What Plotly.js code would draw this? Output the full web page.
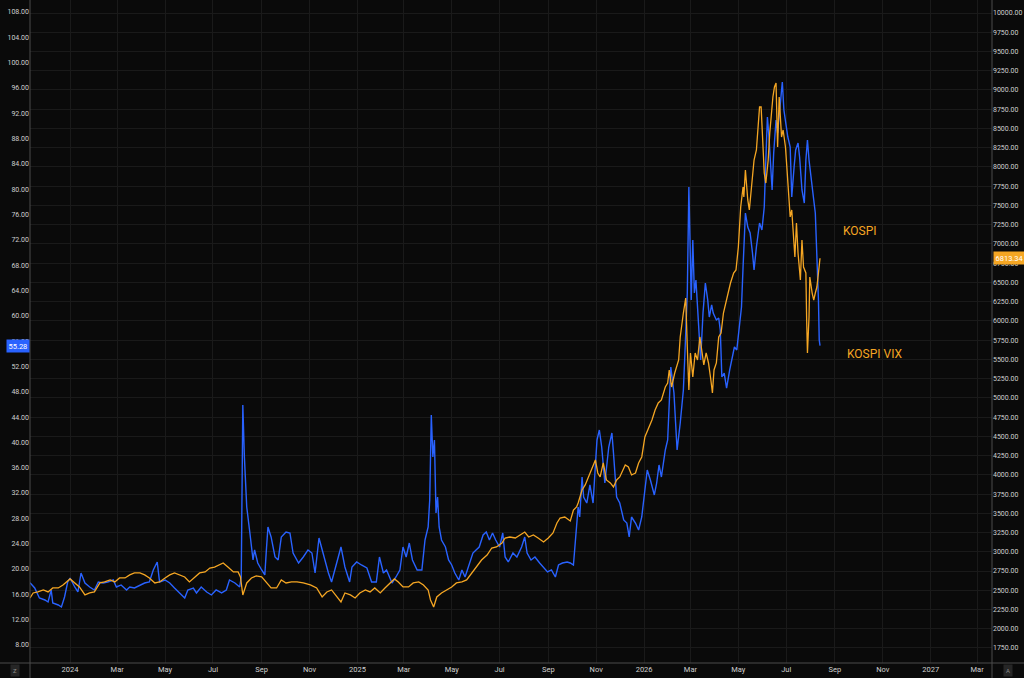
<!DOCTYPE html>
<html>
<head>
<meta charset="utf-8">
<script src="https://cdn.plot.ly/plotly-3.0.1.min.js"></script>
<style>
html,body{margin:0;padding:0;background:#0a0a0a;}
#chart{width:1024px;height:678px;}
</style>
</head>
<body>
<div id="chart"></div>
<script>
// Dates are stored as day offsets from this base date
const baseDate = '2024-01-01';

// KOSPI VIX (left axis)
const vixDays = [-51,-45,-39,-32,-28,-24,-22,-15,-11,-7,-3,0,6,10,14,19,25,31,36,42,48,55,59,65,72,76,82,89,95,101,106,111,114,121,127,133,140,146,150,157,161,167,174,180,186,193,199,203,210,216,218,220,222,225,229,233,235,239,244,248,250,252,256,261,265,269,275,280,284,291,297,303,308,312,317,323,329,333,340,345,350,356,359,365,371,378,384,390,394,399,403,410,415,420,424,428,432,436,442,448,452,456,458,460,462,464,466,468,470,473,478,482,486,490,495,499,503,507,513,517,521,526,530,534,538,542,547,551,554,558,564,569,575,579,582,587,592,598,603,608,613,618,622,627,633,637,641,644,647,649,652,654,658,662,666,671,674,677,681,686,690,692,696,700,705,709,712,715,720,724,728,732,735,739,744,747,750,753,758,761,763,765,769,773,777,781,783,786,788,791,793,795,797,800,803,806,809,812,814,817,819,823,826,828,830,833,836,840,843,846,849,852,855,857,860,863,866,869,871,874,878,881,884,886,888,890,892,894,896,899,901,904,907,909,912,914,917,919,922,924,927,929,932,935,937,939,941,944,947,949,951,953,954,955];
const vixValues = [17.83,16.99,15.41,15.10,14.78,16.68,14.62,14.31,13.99,15.57,17.94,18.57,17.15,16.36,19.36,17.78,17.15,16.68,17.94,17.78,17.94,18.26,17.15,17.47,16.68,17.15,16.99,17.47,17.78,17.94,19.84,21.10,17.94,18.26,17.78,16.99,16.21,15.41,16.68,16.99,16.21,17.15,16.36,15.89,16.68,16.21,16.68,18.26,17.78,17.15,18.73,45.91,37.69,29.79,25.68,21.42,23.00,20.94,19.84,19.05,23.00,26.63,25.05,21.89,21.42,25.05,25.84,25.68,22.52,20.94,21.89,23.00,22.52,19.36,24.89,21.89,19.36,17.94,20.94,23.47,20.31,17.94,20.31,21.10,20.63,20.15,17.94,17.94,21.89,19.36,19.84,17.78,18.73,19.84,23.47,21.89,24.10,21.42,19.84,19.84,24.58,26.63,30.90,44.33,37.69,40.38,28.84,31.37,26.63,24.58,23.47,21.42,20.63,19.36,18.26,19.84,18.73,20.31,22.52,23.00,23.47,25.37,25.84,24.58,25.68,24.58,23.47,25.68,21.89,21.10,22.52,21.89,23.47,25.05,22.52,21.42,21.89,20.94,20.31,19.52,19.84,18.73,20.63,20.94,21.10,20.94,20.63,25.68,29.79,28.21,34.53,31.37,30.42,33.27,30.42,40.38,41.96,39.27,33.58,39.27,41.48,38.32,31.37,30.42,27.74,27.26,25.05,28.21,27.26,26.16,28.21,32.48,35.64,34.06,31.69,33.58,36.43,34.53,38.80,40.38,46.22,51.91,47.80,38.80,43.06,48.28,54.12,63.60,80.35,62.50,71.98,63.60,65.66,58.23,53.02,60.44,65.18,62.50,59.81,61.71,60.44,59.34,59.65,57.76,50.33,50.96,48.59,51.44,53.02,55.07,54.60,58.23,61.39,67.71,76.24,74.03,73.08,69.92,67.24,70.87,74.66,73.56,77.19,84.62,91.41,88.25,84.62,79.88,85.72,90.94,88.88,92.99,96.94,92.52,89.36,88.25,86.67,78.77,83.51,86.20,87.30,85.09,79.88,77.82,84.62,87.78,84.62,80.98,78.30,76.24,69.92,62.50,56.18,55.28];

// KOSPI (right axis)
const kospiDays = [-51,-47,-41,-34,-28,-22,-15,-9,0,6,12,19,25,31,38,44,51,57,63,70,76,82,89,95,101,108,114,121,127,133,140,146,152,159,165,172,178,184,191,195,201,208,214,217,220,225,231,237,244,250,256,263,269,275,282,289,297,306,314,321,327,333,340,345,350,357,363,369,376,382,388,395,401,407,413,418,424,431,437,444,450,456,459,463,467,473,480,486,492,499,505,512,518,524,531,537,543,550,554,560,567,573,579,584,590,596,603,609,615,620,624,630,637,641,645,647,652,656,660,664,669,672,675,679,683,688,692,696,700,707,711,715,720,724,728,732,736,741,745,749,753,758,761,763,766,770,775,777,781,784,786,788,790,793,796,799,802,804,807,810,813,816,818,820,823,826,829,832,835,838,841,845,848,851,854,857,858,860,863,865,868,871,874,876,878,880,882,884,886,889,891,893,895,897,899,901,903,904,906,908,911,913,915,917,919,921,923,925,927,930,932,934,937,938,939,941,942,945,947,949,951,953,955];
const kospiValues = [2400,2465,2478,2504,2478,2530,2530,2569,2647,2595,2543,2439,2465,2478,2595,2608,2634,2608,2660,2660,2699,2725,2725,2699,2660,2595,2608,2660,2699,2725,2699,2673,2608,2673,2725,2738,2789,2802,2841,2854,2802,2738,2738,2673,2439,2595,2660,2686,2673,2608,2530,2530,2634,2595,2608,2608,2595,2569,2530,2413,2478,2504,2413,2348,2465,2439,2400,2465,2504,2478,2530,2465,2530,2595,2647,2608,2543,2543,2595,2608,2569,2504,2374,2283,2413,2465,2504,2543,2595,2608,2634,2725,2802,2893,2958,3049,3062,3114,3179,3192,3179,3218,3257,3192,3218,3179,3127,3179,3244,3374,3439,3452,3400,3543,3582,3634,3803,3868,3972,4063,4193,4024,3972,4154,3933,3894,3842,3933,3972,4128,4102,3998,4024,4154,4232,4491,4582,4712,4842,4933,4972,5141,5193,5362,5141,5323,5492,5791,6102,6297,5661,5102,5583,5271,5583,5492,5791,5622,5427,5583,5453,5232,5063,5362,5453,5791,5843,6102,6232,6401,6492,6622,6661,6960,7480,7739,7610,7960,7571,7441,7739,8090,8220,8519,8779,8779,8311,7921,7791,8090,8441,8701,8909,9039,9091,8259,8909,8740,8389,8480,8259,7960,7661,7350,7441,7090,6830,7272,6882,6531,7051,6700,6622,6012,5583,6050,6570,6362,6271,6362,6440,6622,6813.34];

// X tick labels
const xTickDates = ['2024-01-01','2024-03-01','2024-05-01','2024-07-01','2024-09-01','2024-11-01','2025-01-01','2025-03-01','2025-05-01','2025-07-01','2025-09-01','2025-11-01','2026-01-01','2026-03-01','2026-05-01','2026-07-01','2026-09-01','2026-11-01','2027-01-01','2027-03-01'];
const xTickText = ['2024','Mar','May','Jul','Sep','Nov','2025','Mar','May','Jul','Sep','Nov','2026','Mar','May','Jul','Sep','Nov','2027','Mar'];

const seriesNames = ['KOSPI VIX','KOSPI'];
const lastVix = vixValues[vixValues.length-1];
const lastKospi = kospiValues[kospiValues.length-1];

function toDate(d){
  const t = Date.parse(baseDate + 'T00:00:00Z') + d*86400000;
  return new Date(t).toISOString().slice(0,10);
}

const BLUE = '#2962FF';
const ORANGE = '#F5A623';
const GRID = '#1a1a1a';
const TXT = '#cfcfcf';
const FONT = 'Roboto, "Liberation Sans", Arial, sans-serif';

const traces = [
  {x: vixDays.map(toDate), y: vixValues, type:'scatter', mode:'lines', name: seriesNames[0],
   line:{color:BLUE, width:1.4}, yaxis:'y', hoverinfo:'skip'},
  {x: kospiDays.map(toDate), y: kospiValues, type:'scatter', mode:'lines', name: seriesNames[1],
   line:{color:ORANGE, width:1.3}, yaxis:'y2', hoverinfo:'skip'}
];

const layout = {
  width:1024, height:678,
  margin:{l:30, r:32, t:0, b:15, pad:0},
  paper_bgcolor:'#0a0a0a', plot_bgcolor:'#0a0a0a',
  showlegend:false,
  font:{family:FONT, color:TXT, size:7},
  xaxis:{
    type:'date', range:['2023-11-11','2027-03-20'],
    tickmode:'array', tickvals:xTickDates, ticktext:xTickText,
    showgrid:true, gridcolor:GRID, gridwidth:1,
    zeroline:false, showline:false, ticks:'', ticklen:0,
    tickfont:{family:FONT, color:TXT, size:7.5}, automargin:false, fixedrange:true
  },
  yaxis:{
    range:[5.14, 109.9], tick0:8, dtick:4, tickformat:'.2f',
    showgrid:false, zeroline:false, showline:false, ticks:'', ticklen:0,
    side:'left', tickfont:{family:FONT, color:TXT, size:7}, automargin:false, fixedrange:true
  },
  yaxis2:{
    range:[1555, 10169], tick0:1750, dtick:250, tickformat:'.2f',
    overlaying:'y', side:'right',
    showgrid:true, gridcolor:GRID, gridwidth:1,
    zeroline:false, showline:false, ticks:'', ticklen:0,
    tickfont:{family:FONT, color:TXT, size:7}, automargin:false, fixedrange:true
  },
  shapes:[
    {type:'line', xref:'paper', yref:'paper', x0:0, x1:0, y0:-0.0226, y1:1, line:{color:'#4a4a4a', width:1}},
    {type:'line', xref:'paper', yref:'paper', x0:1, x1:1, y0:-0.0226, y1:1, line:{color:'#4a4a4a', width:1}},
    {type:'line', xref:'paper', yref:'paper', x0:-0.0312, x1:1.0333, y0:0, y1:0, line:{color:'#4a4a4a', width:1}}
  ],
  annotations:[
    {xref:'paper', yref:'paper', x:0.8628, y:0.6516, xanchor:'center', yanchor:'middle', text:seriesNames[1], showarrow:false,
     font:{family:FONT, size:12, color:ORANGE}},
    {xref:'paper', yref:'paper', x:0.8784, y:0.466, xanchor:'center', yanchor:'middle', text:seriesNames[0], showarrow:false,
     font:{family:FONT, size:12, color:ORANGE}},
    {xref:'paper', yref:'y', x:-0.0005, y:lastVix, xanchor:'right', yanchor:'middle', text:lastVix.toFixed(2), showarrow:false,
     bgcolor:BLUE, borderpad:1.5, font:{family:FONT, size:7.5, color:'#ffffff'}},
    {xref:'paper', yref:'y2', x:1.0012, y:lastKospi, xanchor:'left', yanchor:'middle', text:lastKospi.toFixed(2), showarrow:false,
     bgcolor:ORANGE, borderpad:1.5, font:{family:FONT, size:7.5, color:'#ffffff'}},
    {xref:'paper', yref:'paper', x:-0.0156, y:-0.0115, xanchor:'center', yanchor:'middle', text:'Z', showarrow:false,
     bgcolor:'#262626', borderpad:2, font:{family:FONT, size:6, color:'#8a8a8a'}},
    {xref:'paper', yref:'paper', x:1.0166, y:-0.0115, xanchor:'center', yanchor:'middle', text:'A', showarrow:false,
     bgcolor:'#262626', borderpad:2, font:{family:FONT, size:6, color:'#8a8a8a'}}
  ]
};

Plotly.newPlot('chart', traces, layout, {displayModeBar:false, staticPlot:true});
</script>
</body>
</html>
